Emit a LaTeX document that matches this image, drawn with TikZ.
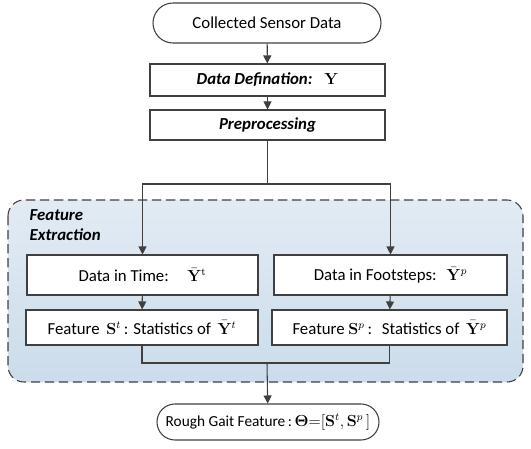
\documentclass[tikz,border=0pt]{standalone}
\usepackage{amsmath}
\usepackage[no-math]{fontspec}
\setmainfont{Carlito}
\usetikzlibrary{arrows.meta,shapes.misc}
\definecolor{lc}{HTML}{404040}
\definecolor{topc}{RGB}{226,235,244}
\definecolor{botc}{RGB}{203,220,234}
\newcommand{\bY}{\bar{\mathbf{Y}}}
\begin{document}
\begin{tikzpicture}[x=0.75pt,y=-0.75pt,
  font=\fontsize{12.6}{14}\selectfont,
  box/.style={draw=lc,line width=0.8pt,fill=white,minimum height=#1*0.75pt,inner sep=0pt},
  term/.style={draw=lc,line width=0.8pt,fill=white,rounded rectangle,minimum height=#1*0.75pt,inner sep=0pt},
  conn/.style={draw=lc,line width=0.8pt},
  arr/.style={conn,-{Triangle[length=6pt,width=6pt]}}]
\useasboundingbox (0,0) rectangle (531,449);
% region
\shade[top color=topc, bottom color=botc, draw=lc, dash pattern=on 7pt off 3.5pt, line width=0.8pt, rounded corners=12pt]
  (8,200) rectangle (523,382);
\node[anchor=north west,align=left,font=\fontsize{12.6}{15}\selectfont\bfseries\itshape] (fe) at (25,205) {Feature\\Extraction};

\node[term=40,minimum width=228*0.75pt] (start) at (267,23) {Collected Sensor Data};
\node[box=32,minimum width=235*0.75pt] (def) at (267.5,80) {\bfseries\itshape Data Defination:\hspace{0.7em}\large$\mathbf{Y}$};
\node[box=30,minimum width=235*0.75pt] (pre) at (267.5,125) {\bfseries\itshape Preprocessing};
\coordinate (br) at (267.5,184);
\node[box=40,minimum width=231*0.75pt] (t1) at (142.5,275) {Data in Time:\hspace{1.1em}\large$\bY^{\mathrm{t}}$};
\node[box=40,minimum width=233*0.75pt] (p1) at (390.5,275) {Data in Footsteps:\hspace{0.6em}\large$\bY^{p}$};
\node[box=35,minimum width=232*0.75pt] (t2) at (142,327.5) {Feature\, {\large$\mathbf{S}^{t}$}\,: Statistics of\, {\large$\bY^{t}$}};
\node[box=35,minimum width=235*0.75pt] (p2) at (389.5,327.5) {Feature {\large$\mathbf{S}^{p}$}\,:\; Statistics of\, {\large$\bY^{p}$}};
\coordinate (mg) at (267,363);
\node[term=36,minimum width=222*0.75pt,font=\fontsize{11.5}{14}\selectfont] (end) at (268,422) {Rough Gait Feature\,:\,{\large$\boldsymbol{\Theta}{=}[\mathbf{S}^{t},\mathbf{S}^{p}\,]$}};

\draw[arr] (start) -- (def);
\draw[arr] (def) -- (pre);
\draw[conn] (pre) -- (br);
\draw[arr] (br) -| (t1);
\draw[arr] (br) -| (p1);
\draw[arr] (t1) -- (t2);
\draw[arr] (p1) -- (p2);
\draw[conn] (t2.south) |- (mg);
\draw[conn] (p2.south) |- (mg);
\draw[arr] (mg) -- (end);
\end{tikzpicture}
\end{document}
